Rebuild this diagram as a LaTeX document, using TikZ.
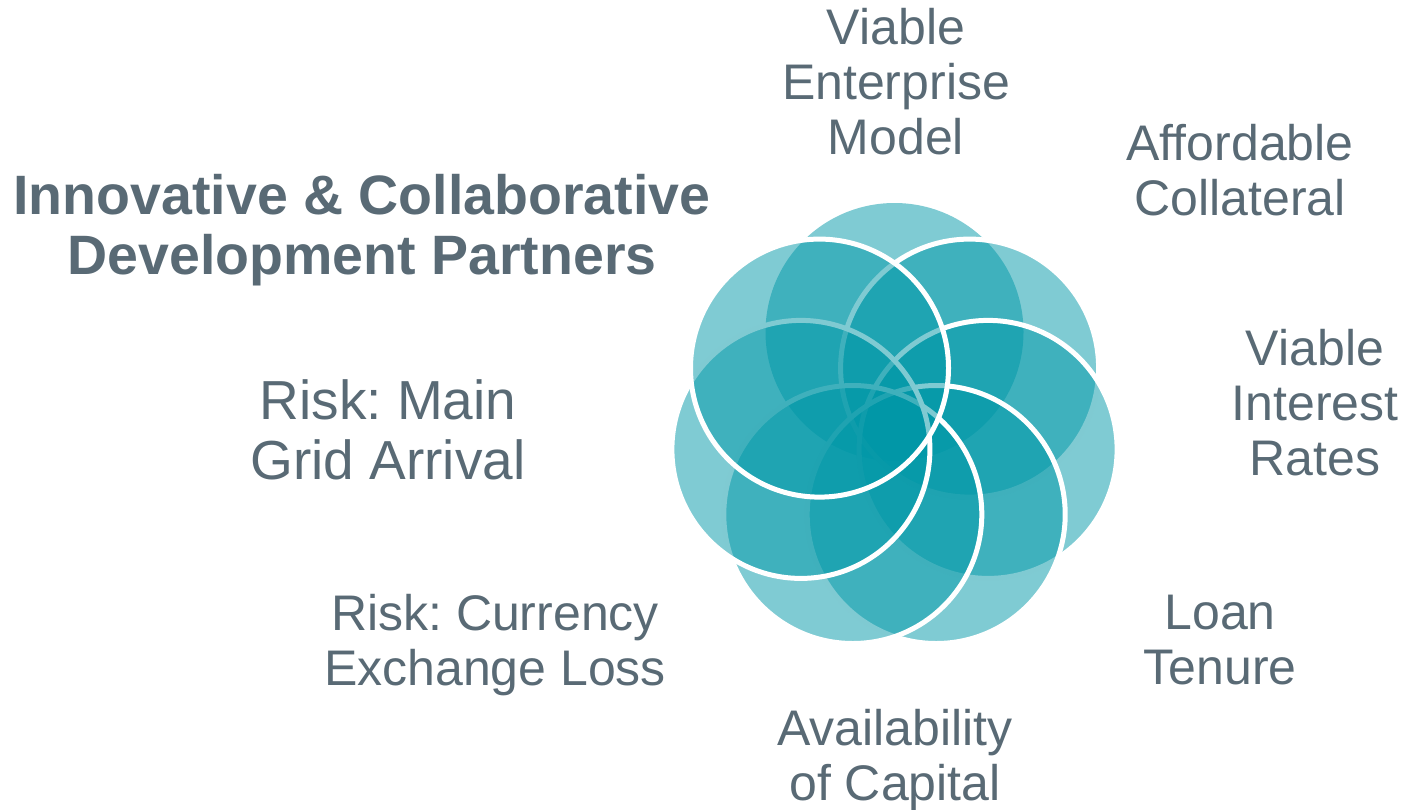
\documentclass[tikz,border=0pt]{standalone}
\usepackage{fontspec}
\setmainfont{Liberation Sans}
\frenchspacing
\definecolor{petalteal}{HTML}{0097A7}
\definecolor{slate}{RGB}{89,106,117}
\tikzset{
  petal/.style={fill=petalteal, fill opacity=0.5},
  rim/.style={petal, draw=white, line width=5bp},
  factor/.style={text=slate, align=center, inner sep=0pt, font=\fontsize{50bp}{55bp}\selectfont},
  headline/.style={factor, font=\fontsize{55.5bp}{60bp}\selectfont\bfseries},
}
\begin{document}
\begin{tikzpicture}[x=1bp,y=-1bp]
  \useasboundingbox (0,0) rectangle (1405,809);
  % Draw the petals, the top one has no rim
  \fill[petal] (894.5,332) circle (129bp);
  \draw[rim] (969.6,368.1) circle (129bp);
  \draw[rim] (988.1,449.4) circle (129bp);
  \draw[rim] (936.2,514.5) circle (129bp);
  \draw[rim] (852.8,514.5) circle (129bp);
  \draw[rim] (800.9,449.4) circle (129bp);
  \draw[rim] (819.5,368.1) circle (129bp);
  % Draw the labels
  \node[headline] (partners) at (362,230) {Innovative \& Collaborative\\Development Partners};
  \node[factor] (model) at (896,82) {Viable\\Enterprise\\Model};
  \node[factor] (collateral) at (1240,170.5) {Affordable\\Collateral};
  \node[factor] (rates) at (1315,402.5) {Viable\\Interest\\Rates};
  \node[factor] (tenure) at (1220,640.5) {Loan\\Tenure};
  \node[factor] (capital) at (895,760.5) {Availability\\of Capital};
  \node[factor] (currency) at (495,645.5) {Risk: Currency\\Exchange Loss};
  \node[factor, font=\fontsize{55bp}{60bp}\selectfont] (grid) at (388,430) {Risk: Main\\Grid Arrival};
\end{tikzpicture}
\end{document}
